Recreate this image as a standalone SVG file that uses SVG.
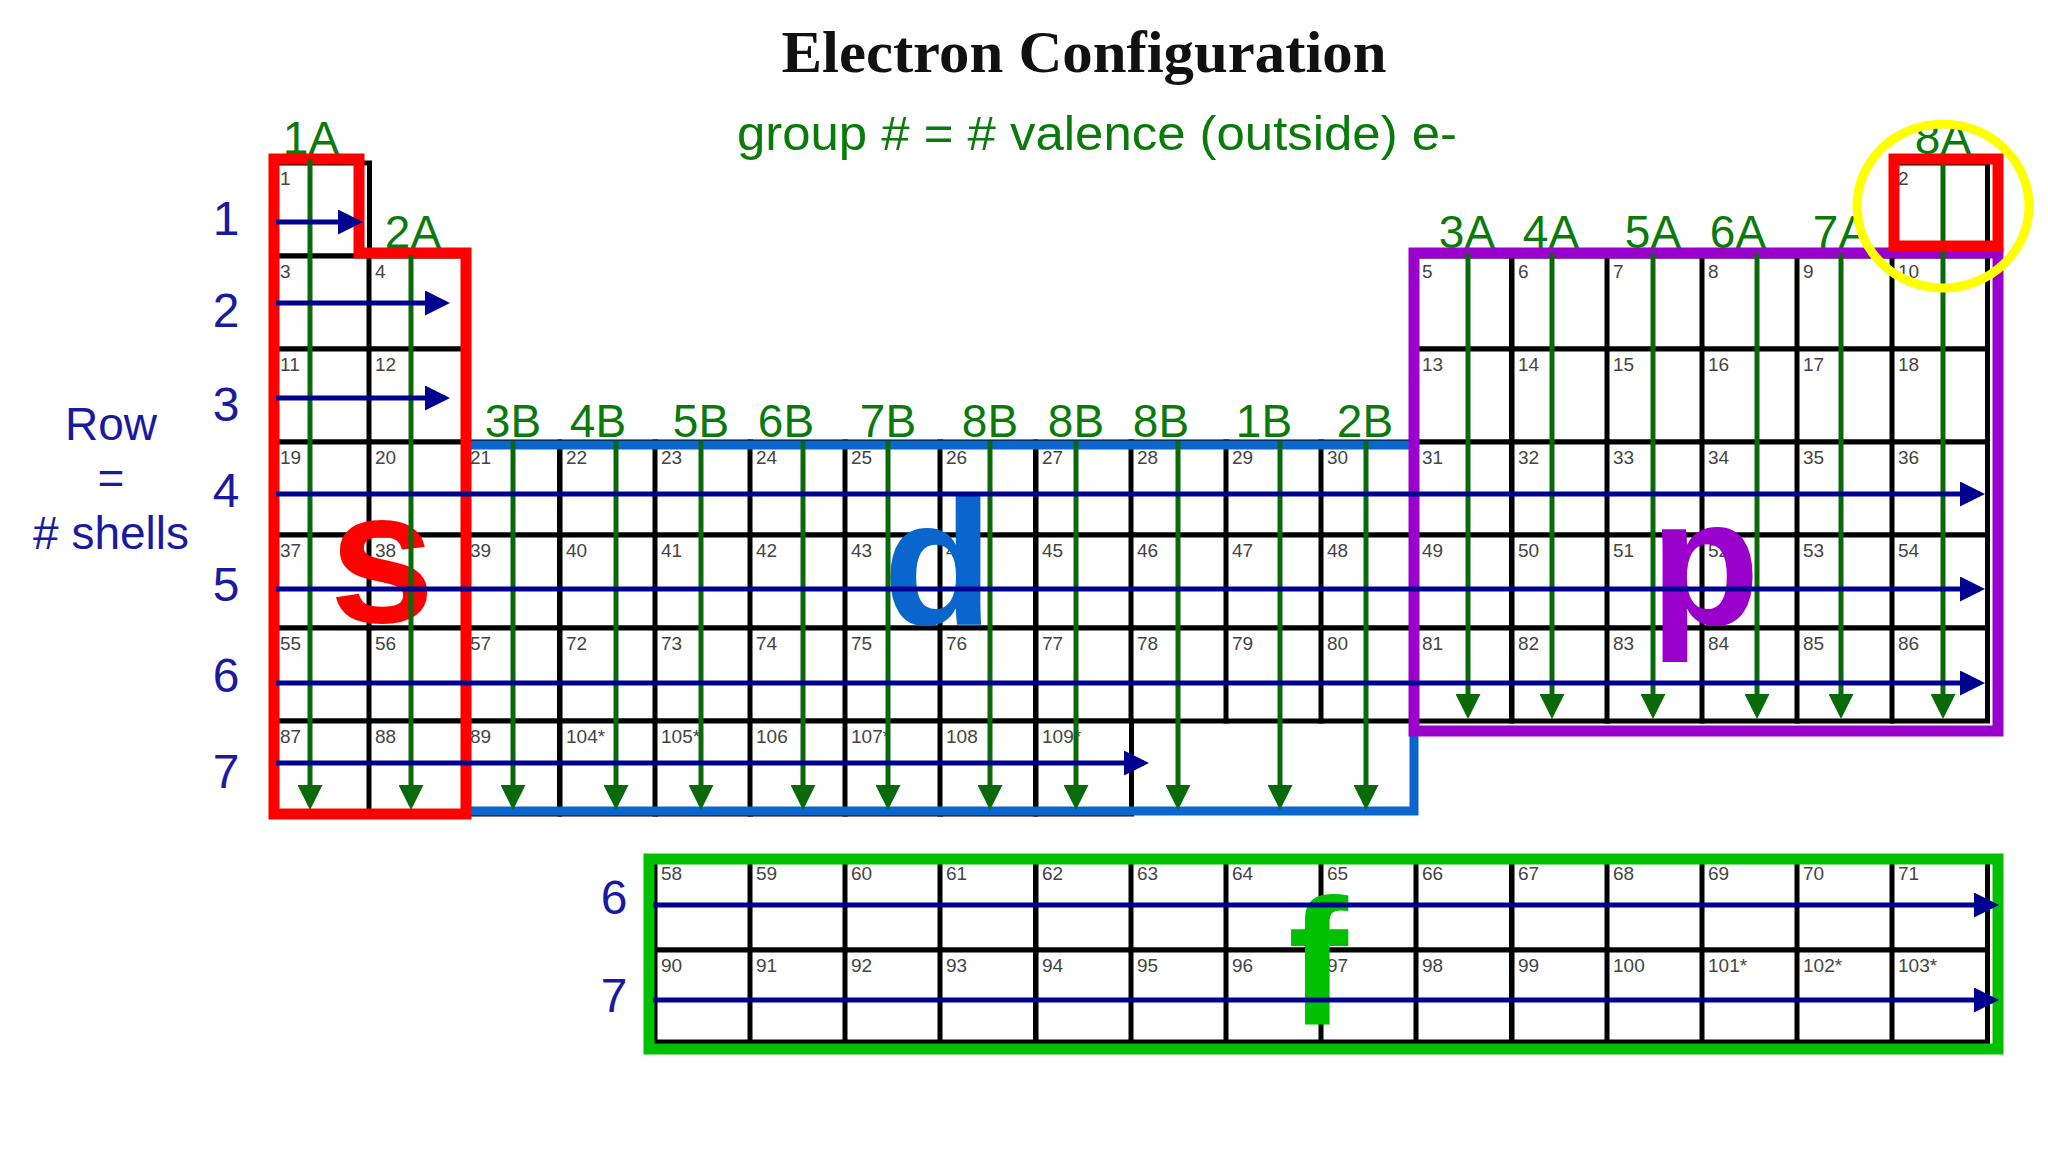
<svg xmlns="http://www.w3.org/2000/svg" width="2048" height="1152" viewBox="0 0 2048 1152">
<style>
.c{fill:#fff;stroke:#000;stroke-width:5}
.n{font-family:"Liberation Sans",Arial,sans-serif;font-size:19px;fill:#444}
.g{font-family:"Liberation Sans",Arial,sans-serif;font-size:46px;fill:#0a7a0a;text-anchor:middle}
.r{font-family:"Liberation Sans",Arial,sans-serif;font-size:48px;fill:#1a1aa0;text-anchor:middle}
.big{font-family:"Liberation Sans",Arial,sans-serif;font-weight:bold;text-anchor:middle}
.ga{stroke:#0a6a0a;stroke-width:5;marker-end:url(#gh)}
.ba{stroke:#00008f;stroke-width:5;marker-end:url(#bh)}
</style>
<defs>
<marker id="gh" markerWidth="5" markerHeight="5" refX="4" refY="2.5" orient="auto" markerUnits="strokeWidth"><path d="M0,0 L5,2.5 L0,5 z" fill="#0a6a0a"/></marker>
<marker id="bh" markerWidth="5" markerHeight="5" refX="4" refY="2.5" orient="auto" markerUnits="strokeWidth"><path d="M0,0 L5,2.5 L0,5 z" fill="#00008f"/></marker>
</defs>
<rect width="2048" height="1152" fill="#fff"/>
<g id="title"><text x="1084" y="72" font-family="Liberation Serif,serif" font-weight="bold" font-size="60" text-anchor="middle" fill="#111" textLength="605" lengthAdjust="spacingAndGlyphs">Electron Configuration</text>
<text x="1097" y="150" class="g" style="font-size:48px" textLength="720" lengthAdjust="spacingAndGlyphs">group # = # valence (outside) e-</text></g>
<g id="grid">
<rect class="c" x="274" y="163" width="95.5" height="93"/><text class="n" x="280" y="185">1</text>
<rect class="c" x="1892" y="163" width="95.5" height="93"/><text class="n" x="1898" y="185">2</text>
<rect class="c" x="274" y="256" width="95.5" height="93"/><text class="n" x="280" y="278">3</text>
<rect class="c" x="369" y="256" width="95.5" height="93"/><text class="n" x="375" y="278">4</text>
<rect class="c" x="1416" y="256" width="95.5" height="93"/><text class="n" x="1422" y="278">5</text>
<rect class="c" x="1512" y="256" width="95.5" height="93"/><text class="n" x="1518" y="278">6</text>
<rect class="c" x="1607" y="256" width="95.5" height="93"/><text class="n" x="1613" y="278">7</text>
<rect class="c" x="1702" y="256" width="95.5" height="93"/><text class="n" x="1708" y="278">8</text>
<rect class="c" x="1797" y="256" width="95.5" height="93"/><text class="n" x="1803" y="278">9</text>
<rect class="c" x="1892" y="256" width="95.5" height="93"/><text class="n" x="1898" y="278">10</text>
<rect class="c" x="274" y="349" width="95.5" height="93"/><text class="n" x="280" y="371">11</text>
<rect class="c" x="369" y="349" width="95.5" height="93"/><text class="n" x="375" y="371">12</text>
<rect class="c" x="1416" y="349" width="95.5" height="93"/><text class="n" x="1422" y="371">13</text>
<rect class="c" x="1512" y="349" width="95.5" height="93"/><text class="n" x="1518" y="371">14</text>
<rect class="c" x="1607" y="349" width="95.5" height="93"/><text class="n" x="1613" y="371">15</text>
<rect class="c" x="1702" y="349" width="95.5" height="93"/><text class="n" x="1708" y="371">16</text>
<rect class="c" x="1797" y="349" width="95.5" height="93"/><text class="n" x="1803" y="371">17</text>
<rect class="c" x="1892" y="349" width="95.5" height="93"/><text class="n" x="1898" y="371">18</text>
<rect class="c" x="274" y="442" width="95.5" height="93"/><text class="n" x="280" y="464">19</text>
<rect class="c" x="369" y="442" width="95.5" height="93"/><text class="n" x="375" y="464">20</text>
<rect class="c" x="464" y="442" width="95.5" height="93"/><text class="n" x="470" y="464">21</text>
<rect class="c" x="560" y="442" width="95.5" height="93"/><text class="n" x="566" y="464">22</text>
<rect class="c" x="655" y="442" width="95.5" height="93"/><text class="n" x="661" y="464">23</text>
<rect class="c" x="750" y="442" width="95.5" height="93"/><text class="n" x="756" y="464">24</text>
<rect class="c" x="845" y="442" width="95.5" height="93"/><text class="n" x="851" y="464">25</text>
<rect class="c" x="940" y="442" width="95.5" height="93"/><text class="n" x="946" y="464">26</text>
<rect class="c" x="1036" y="442" width="95.5" height="93"/><text class="n" x="1042" y="464">27</text>
<rect class="c" x="1131" y="442" width="95.5" height="93"/><text class="n" x="1137" y="464">28</text>
<rect class="c" x="1226" y="442" width="95.5" height="93"/><text class="n" x="1232" y="464">29</text>
<rect class="c" x="1321" y="442" width="95.5" height="93"/><text class="n" x="1327" y="464">30</text>
<rect class="c" x="1416" y="442" width="95.5" height="93"/><text class="n" x="1422" y="464">31</text>
<rect class="c" x="1512" y="442" width="95.5" height="93"/><text class="n" x="1518" y="464">32</text>
<rect class="c" x="1607" y="442" width="95.5" height="93"/><text class="n" x="1613" y="464">33</text>
<rect class="c" x="1702" y="442" width="95.5" height="93"/><text class="n" x="1708" y="464">34</text>
<rect class="c" x="1797" y="442" width="95.5" height="93"/><text class="n" x="1803" y="464">35</text>
<rect class="c" x="1892" y="442" width="95.5" height="93"/><text class="n" x="1898" y="464">36</text>
<rect class="c" x="274" y="535" width="95.5" height="93"/><text class="n" x="280" y="557">37</text>
<rect class="c" x="369" y="535" width="95.5" height="93"/><text class="n" x="375" y="557">38</text>
<rect class="c" x="464" y="535" width="95.5" height="93"/><text class="n" x="470" y="557">39</text>
<rect class="c" x="560" y="535" width="95.5" height="93"/><text class="n" x="566" y="557">40</text>
<rect class="c" x="655" y="535" width="95.5" height="93"/><text class="n" x="661" y="557">41</text>
<rect class="c" x="750" y="535" width="95.5" height="93"/><text class="n" x="756" y="557">42</text>
<rect class="c" x="845" y="535" width="95.5" height="93"/><text class="n" x="851" y="557">43</text>
<rect class="c" x="940" y="535" width="95.5" height="93"/><text class="n" x="946" y="557">44</text>
<rect class="c" x="1036" y="535" width="95.5" height="93"/><text class="n" x="1042" y="557">45</text>
<rect class="c" x="1131" y="535" width="95.5" height="93"/><text class="n" x="1137" y="557">46</text>
<rect class="c" x="1226" y="535" width="95.5" height="93"/><text class="n" x="1232" y="557">47</text>
<rect class="c" x="1321" y="535" width="95.5" height="93"/><text class="n" x="1327" y="557">48</text>
<rect class="c" x="1416" y="535" width="95.5" height="93"/><text class="n" x="1422" y="557">49</text>
<rect class="c" x="1512" y="535" width="95.5" height="93"/><text class="n" x="1518" y="557">50</text>
<rect class="c" x="1607" y="535" width="95.5" height="93"/><text class="n" x="1613" y="557">51</text>
<rect class="c" x="1702" y="535" width="95.5" height="93"/><text class="n" x="1708" y="557">52</text>
<rect class="c" x="1797" y="535" width="95.5" height="93"/><text class="n" x="1803" y="557">53</text>
<rect class="c" x="1892" y="535" width="95.5" height="93"/><text class="n" x="1898" y="557">54</text>
<rect class="c" x="274" y="628" width="95.5" height="93"/><text class="n" x="280" y="650">55</text>
<rect class="c" x="369" y="628" width="95.5" height="93"/><text class="n" x="375" y="650">56</text>
<rect class="c" x="464" y="628" width="95.5" height="93"/><text class="n" x="470" y="650">57</text>
<rect class="c" x="560" y="628" width="95.5" height="93"/><text class="n" x="566" y="650">72</text>
<rect class="c" x="655" y="628" width="95.5" height="93"/><text class="n" x="661" y="650">73</text>
<rect class="c" x="750" y="628" width="95.5" height="93"/><text class="n" x="756" y="650">74</text>
<rect class="c" x="845" y="628" width="95.5" height="93"/><text class="n" x="851" y="650">75</text>
<rect class="c" x="940" y="628" width="95.5" height="93"/><text class="n" x="946" y="650">76</text>
<rect class="c" x="1036" y="628" width="95.5" height="93"/><text class="n" x="1042" y="650">77</text>
<rect class="c" x="1131" y="628" width="95.5" height="93"/><text class="n" x="1137" y="650">78</text>
<rect class="c" x="1226" y="628" width="95.5" height="93"/><text class="n" x="1232" y="650">79</text>
<rect class="c" x="1321" y="628" width="95.5" height="93"/><text class="n" x="1327" y="650">80</text>
<rect class="c" x="1416" y="628" width="95.5" height="93"/><text class="n" x="1422" y="650">81</text>
<rect class="c" x="1512" y="628" width="95.5" height="93"/><text class="n" x="1518" y="650">82</text>
<rect class="c" x="1607" y="628" width="95.5" height="93"/><text class="n" x="1613" y="650">83</text>
<rect class="c" x="1702" y="628" width="95.5" height="93"/><text class="n" x="1708" y="650">84</text>
<rect class="c" x="1797" y="628" width="95.5" height="93"/><text class="n" x="1803" y="650">85</text>
<rect class="c" x="1892" y="628" width="95.5" height="93"/><text class="n" x="1898" y="650">86</text>
<rect class="c" x="274" y="721" width="95.5" height="93"/><text class="n" x="280" y="743">87</text>
<rect class="c" x="369" y="721" width="95.5" height="93"/><text class="n" x="375" y="743">88</text>
<rect class="c" x="464" y="721" width="95.5" height="93"/><text class="n" x="470" y="743">89</text>
<rect class="c" x="560" y="721" width="95.5" height="93"/><text class="n" x="566" y="743">104*</text>
<rect class="c" x="655" y="721" width="95.5" height="93"/><text class="n" x="661" y="743">105*</text>
<rect class="c" x="750" y="721" width="95.5" height="93"/><text class="n" x="756" y="743">106</text>
<rect class="c" x="845" y="721" width="95.5" height="93"/><text class="n" x="851" y="743">107*</text>
<rect class="c" x="940" y="721" width="95.5" height="93"/><text class="n" x="946" y="743">108</text>
<rect class="c" x="1036" y="721" width="95.5" height="93"/><text class="n" x="1042" y="743">109*</text>
</g>
<g id="fgrid">
<rect class="c" x="655" y="858" width="95.5" height="92"/><text class="n" x="661" y="880">58</text>
<rect class="c" x="750" y="858" width="95.5" height="92"/><text class="n" x="756" y="880">59</text>
<rect class="c" x="845" y="858" width="95.5" height="92"/><text class="n" x="851" y="880">60</text>
<rect class="c" x="940" y="858" width="95.5" height="92"/><text class="n" x="946" y="880">61</text>
<rect class="c" x="1036" y="858" width="95.5" height="92"/><text class="n" x="1042" y="880">62</text>
<rect class="c" x="1131" y="858" width="95.5" height="92"/><text class="n" x="1137" y="880">63</text>
<rect class="c" x="1226" y="858" width="95.5" height="92"/><text class="n" x="1232" y="880">64</text>
<rect class="c" x="1321" y="858" width="95.5" height="92"/><text class="n" x="1327" y="880">65</text>
<rect class="c" x="1416" y="858" width="95.5" height="92"/><text class="n" x="1422" y="880">66</text>
<rect class="c" x="1512" y="858" width="95.5" height="92"/><text class="n" x="1518" y="880">67</text>
<rect class="c" x="1607" y="858" width="95.5" height="92"/><text class="n" x="1613" y="880">68</text>
<rect class="c" x="1702" y="858" width="95.5" height="92"/><text class="n" x="1708" y="880">69</text>
<rect class="c" x="1797" y="858" width="95.5" height="92"/><text class="n" x="1803" y="880">70</text>
<rect class="c" x="1892" y="858" width="95.5" height="92"/><text class="n" x="1898" y="880">71</text>
<rect class="c" x="655" y="950" width="95.5" height="92"/><text class="n" x="661" y="972">90</text>
<rect class="c" x="750" y="950" width="95.5" height="92"/><text class="n" x="756" y="972">91</text>
<rect class="c" x="845" y="950" width="95.5" height="92"/><text class="n" x="851" y="972">92</text>
<rect class="c" x="940" y="950" width="95.5" height="92"/><text class="n" x="946" y="972">93</text>
<rect class="c" x="1036" y="950" width="95.5" height="92"/><text class="n" x="1042" y="972">94</text>
<rect class="c" x="1131" y="950" width="95.5" height="92"/><text class="n" x="1137" y="972">95</text>
<rect class="c" x="1226" y="950" width="95.5" height="92"/><text class="n" x="1232" y="972">96</text>
<rect class="c" x="1321" y="950" width="95.5" height="92"/><text class="n" x="1327" y="972">97</text>
<rect class="c" x="1416" y="950" width="95.5" height="92"/><text class="n" x="1422" y="972">98</text>
<rect class="c" x="1512" y="950" width="95.5" height="92"/><text class="n" x="1518" y="972">99</text>
<rect class="c" x="1607" y="950" width="95.5" height="92"/><text class="n" x="1613" y="972">100</text>
<rect class="c" x="1702" y="950" width="95.5" height="92"/><text class="n" x="1708" y="972">101*</text>
<rect class="c" x="1797" y="950" width="95.5" height="92"/><text class="n" x="1803" y="972">102*</text>
<rect class="c" x="1892" y="950" width="95.5" height="92"/><text class="n" x="1898" y="972">103*</text>
</g>
<g id="blocks" fill="none">
<path d="M466,445 H1414 V811 H466" stroke="#0a66cc" stroke-width="9"/>
<path d="M274,159 H359 V253 H466 V814 H274 Z" stroke="#ff0000" stroke-width="11"/>
<rect x="1414" y="253" width="584" height="478" stroke="#9900cc" stroke-width="11"/>
<rect x="649" y="859" width="1349" height="190" stroke="#00c000" stroke-width="11"/>
</g>
<g id="letters">
<text class="big" x="382" y="622" font-size="190" fill="#ff0000">s</text>
<text class="big" x="938" y="625" font-size="180" fill="#0a66cc">d</text>
<text class="big" x="1705" y="625" font-size="180" fill="#9900cc">p</text>
<text class="big" x="1318" y="1025" font-size="180" fill="#00c000">f</text>
</g>
<g id="connectors">
<line class="ga" x1="310" y1="159" x2="310" y2="805"/>
<line class="ga" x1="411" y1="255" x2="411" y2="805"/>
<line class="ga" x1="513" y1="441" x2="513" y2="805"/>
<line class="ga" x1="616" y1="441" x2="616" y2="805"/>
<line class="ga" x1="701" y1="441" x2="701" y2="805"/>
<line class="ga" x1="803" y1="441" x2="803" y2="805"/>
<line class="ga" x1="888" y1="441" x2="888" y2="805"/>
<line class="ga" x1="990" y1="441" x2="990" y2="805"/>
<line class="ga" x1="1076" y1="441" x2="1076" y2="805"/>
<line class="ga" x1="1178" y1="441" x2="1178" y2="805"/>
<line class="ga" x1="1280" y1="441" x2="1280" y2="805"/>
<line class="ga" x1="1366" y1="441" x2="1366" y2="805"/>
<line class="ga" x1="1468" y1="253" x2="1468" y2="714"/>
<line class="ga" x1="1552" y1="253" x2="1552" y2="714"/>
<line class="ga" x1="1653" y1="253" x2="1653" y2="714"/>
<line class="ga" x1="1757" y1="253" x2="1757" y2="714"/>
<line class="ga" x1="1841" y1="253" x2="1841" y2="714"/>
<line class="ga" x1="1943" y1="159" x2="1943" y2="714"/>
<line class="ba" x1="276" y1="222" x2="358" y2="222"/>
<line class="ba" x1="276" y1="303" x2="445" y2="303"/>
<line class="ba" x1="276" y1="398" x2="445" y2="398"/>
<line class="ba" x1="276" y1="494" x2="1980" y2="494"/>
<line class="ba" x1="276" y1="589" x2="1980" y2="589"/>
<line class="ba" x1="276" y1="683" x2="1980" y2="683"/>
<line class="ba" x1="276" y1="763" x2="1144" y2="763"/>
<line class="ba" x1="653" y1="905" x2="1994" y2="905"/>
<line class="ba" x1="653" y1="1000" x2="1994" y2="1000"/>
</g>
<g id="labels">
<text class="g" x="311" y="154">1A</text>
<text class="g" x="413" y="248">2A</text>
<text class="g" x="1467" y="248">3A</text>
<text class="g" x="1551" y="248">4A</text>
<text class="g" x="1653" y="248">5A</text>
<text class="g" x="1738" y="248">6A</text>
<text class="g" x="1841" y="248">7A</text>
<text class="g" x="1943" y="154">8A</text>
<text class="g" x="513" y="437">3B</text>
<text class="g" x="598" y="437">4B</text>
<text class="g" x="701" y="437">5B</text>
<text class="g" x="786" y="437">6B</text>
<text class="g" x="888" y="437">7B</text>
<text class="g" x="990" y="437">8B</text>
<text class="g" x="1076" y="437">8B</text>
<text class="g" x="1161" y="437">8B</text>
<text class="g" x="1264" y="437">1B</text>
<text class="g" x="1365" y="437">2B</text>
<text class="r" x="226" y="235">1</text>
<text class="r" x="226" y="327">2</text>
<text class="r" x="226" y="421">3</text>
<text class="r" x="226" y="507">4</text>
<text class="r" x="226" y="601">5</text>
<text class="r" x="226" y="692">6</text>
<text class="r" x="226" y="788">7</text>
<text class="r" x="614" y="914">6</text>
<text class="r" x="614" y="1012">7</text>
<text class="r" x="111" y="440" style="font-size:46px">Row</text>
<text class="r" x="111" y="494" style="font-size:46px">=</text>
<text class="r" x="111" y="549" style="font-size:46px"># shells</text>
</g>
<g id="helium" fill="none">
<rect x="1894" y="159" width="104" height="87" stroke="#ff0000" stroke-width="11"/>
<ellipse cx="1943" cy="206" rx="86" ry="82" stroke="#ffff00" stroke-width="9"/>
</g>
</svg>
